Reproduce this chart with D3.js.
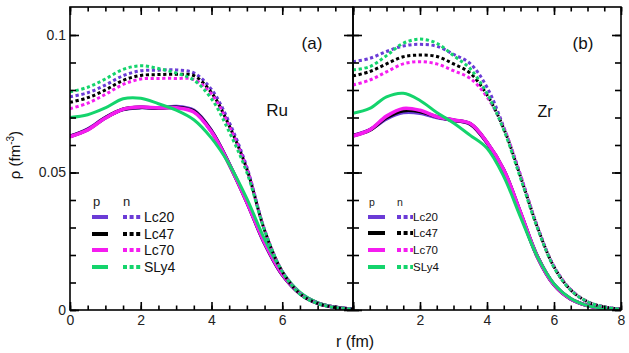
<!DOCTYPE html>
<html lang="en">
<head>
  <meta charset="UTF-8">
  <title>density profiles</title>
  <script src="https://cdn.jsdelivr.net/npm/d3@7"></script>
  <style>
    body { margin: 0; background: #fff; }
    text { font-family: 'Liberation Sans', Arial, sans-serif; }
  </style>
</head>
<body>
</body>
<script>
  // radius grid (fm)
  const rGrid = [0, 0.5, 1, 1.5, 2, 2.5, 3, 3.5, 4, 4.5, 5, 5.5, 6, 6.5, 7, 7.5, 8]
  const models = ['Lc20', 'Lc47', 'Lc70', 'SLy4']
  const xTicks = [0, 0.5, 1, 1.5, 2, 2.5, 3, 3.5, 4, 4.5, 5, 5.5, 6, 6.5, 7, 7.5, 8]
  const yTicks = [0, 0.01, 0.02, 0.03, 0.04, 0.05, 0.06, 0.07, 0.08, 0.09, 0.1]
  const yLabels = [0, 0.05, 0.1]

  // Ru, protons
  const ruPLc20 = [0.0632, 0.0658, 0.0700, 0.0729, 0.0736, 0.0734, 0.0740, 0.0726, 0.0652, 0.0532, 0.0392, 0.0242, 0.0128, 0.0060, 0.0025, 0.0010, 0.0003]
  const ruPLc47 = [0.0631, 0.0656, 0.0699, 0.0730, 0.0737, 0.0734, 0.0737, 0.0723, 0.0650, 0.0530, 0.0393, 0.0244, 0.0129, 0.0060, 0.0025, 0.0010, 0.0003]
  const ruPLc70 = [0.0630, 0.0655, 0.0698, 0.0730, 0.0738, 0.0735, 0.0735, 0.0720, 0.0648, 0.0530, 0.0392, 0.0245, 0.0130, 0.0060, 0.0025, 0.0010, 0.0003]
  const ruPSLy4 = [0.0700, 0.0710, 0.0735, 0.0768, 0.0770, 0.0750, 0.0727, 0.0692, 0.0625, 0.0530, 0.0405, 0.0258, 0.0140, 0.0065, 0.0027, 0.0010, 0.0003]
  // Ru, neutrons
  const ruNLc20 = [0.0775, 0.0790, 0.0818, 0.0852, 0.0870, 0.0872, 0.0873, 0.0862, 0.0802, 0.0683, 0.0520, 0.0292, 0.0140, 0.0060, 0.0024, 0.0009, 0.0003]
  const ruNLc47 = [0.0755, 0.0772, 0.0800, 0.0835, 0.0853, 0.0856, 0.0857, 0.0852, 0.0790, 0.0670, 0.0512, 0.0290, 0.0140, 0.0059, 0.0024, 0.0009, 0.0003]
  const ruNLc70 = [0.0732, 0.0752, 0.0784, 0.0820, 0.0840, 0.0842, 0.0842, 0.0838, 0.0785, 0.0668, 0.0512, 0.0292, 0.0141, 0.0060, 0.0024, 0.0009, 0.0003]
  const ruNSLy4 = [0.0793, 0.0810, 0.0840, 0.0875, 0.0888, 0.0878, 0.0862, 0.0836, 0.0768, 0.0648, 0.0500, 0.0290, 0.0140, 0.0058, 0.0023, 0.0009, 0.0003]

  // Zr, protons
  const zrPLc20 = [0.0635, 0.0655, 0.0695, 0.0718, 0.0716, 0.0700, 0.0690, 0.0676, 0.0608, 0.0508, 0.0352, 0.0195, 0.0092, 0.0040, 0.0016, 0.0006, 0.0002]
  const zrPLc47 = [0.0634, 0.0654, 0.0700, 0.0725, 0.0722, 0.0703, 0.0690, 0.0677, 0.0609, 0.0509, 0.0353, 0.0195, 0.0092, 0.0040, 0.0016, 0.0006, 0.0002]
  const zrPLc70 = [0.0633, 0.0655, 0.0705, 0.0733, 0.0726, 0.0703, 0.0691, 0.0678, 0.0610, 0.0510, 0.0355, 0.0195, 0.0092, 0.0040, 0.0016, 0.0006, 0.0002]
  const zrPSLy4 = [0.0715, 0.0733, 0.0775, 0.0788, 0.0762, 0.0718, 0.0680, 0.0635, 0.0588, 0.0485, 0.0338, 0.0195, 0.0095, 0.0042, 0.0016, 0.0006, 0.0002]
  // Zr, neutrons
  const zrNLc20 = [0.0903, 0.0915, 0.0940, 0.0960, 0.0966, 0.0959, 0.0930, 0.0896, 0.0810, 0.0665, 0.0490, 0.0305, 0.0158, 0.0074, 0.0030, 0.0011, 0.0003]
  const zrNLc47 = [0.0851, 0.0867, 0.0895, 0.0921, 0.0927, 0.0922, 0.0895, 0.0861, 0.0782, 0.0660, 0.0485, 0.0303, 0.0157, 0.0073, 0.0030, 0.0011, 0.0003]
  const zrNLc70 = [0.0818, 0.0836, 0.0866, 0.0895, 0.0903, 0.0895, 0.0870, 0.0842, 0.0775, 0.0662, 0.0490, 0.0305, 0.0158, 0.0074, 0.0030, 0.0011, 0.0003]
  const zrNSLy4 = [0.0873, 0.0885, 0.0925, 0.0970, 0.0985, 0.0970, 0.0925, 0.0877, 0.0787, 0.0655, 0.0480, 0.0300, 0.0155, 0.0072, 0.0030, 0.0011, 0.0003]

  const panels = [
    { key: 'a', nucleus: 'Ru', p: [ruPLc20, ruPLc47, ruPLc70, ruPSLy4], n: [ruNLc20, ruNLc47, ruNLc70, ruNSLy4] },
    { key: 'b', nucleus: 'Zr', p: [zrPLc20, zrPLc47, zrPLc70, zrPSLy4], n: [zrNLc20, zrNLc47, zrNLc70, zrNSLy4] }
  ]

  drawChart()

  function drawChart() {
    const width = 629
    const height = 353
    const top = 7
    const bottom = 310
    const colors = ['#6b3bd6', '#000000', '#f51cf0', '#14d46c']
    const dash = '3.2,2.6'
    const font = "'Liberation Sans', Arial, sans-serif"

    const svg = d3.select('body').append('svg').attr('width', width).attr('height', height)

    const y = d3.scaleLinear().domain([0, 0.11018]).range([bottom, top])

    // panel geometry
    const px = [[70, 353], [353, 621]]

    const line = (x) => d3.line()
      .x((d, i) => x(rGrid[i]))
      .y(d => y(d))
      .curve(d3.curveCatmullRom.alpha(0.5))

    panels.forEach((panel, pi) => {
      const [x0, x1] = px[pi]
      const x = d3.scaleLinear().domain([0, 8]).range([x0, x1])
      const g = svg.append('g')

      const clipId = 'clip-' + panel.key
      svg.append('clipPath').attr('id', clipId)
        .append('rect').attr('x', x0).attr('y', top).attr('width', x1 - x0).attr('height', bottom - top)

      // curves: protons solid, neutrons dotted
      const curves = g.append('g').attr('clip-path', `url(#${clipId})`).attr('fill', 'none')
      panel.p.forEach((vals, i) => {
        curves.append('path')
          .attr('d', line(x)(vals))
          .attr('stroke', colors[i])
          .attr('stroke-width', i === 3 ? 3 : 3.6)
      })
      panel.n.forEach((vals, i) => {
        curves.append('path')
          .attr('d', line(x)(vals))
          .attr('stroke', colors[i])
          .attr('stroke-width', 3)
          .attr('stroke-dasharray', dash)
      })

      // axes (ticks point inwards)
      const minorX = xTicks
      const majorX = xTicks.filter(d => d % 2 === 0)
      const xLabelOk = d => pi === 0 ? d < 8 : d > 0

      g.append('g').attr('transform', `translate(0,${bottom})`)
        .call(d3.axisBottom(x).tickValues(minorX).tickSize(-4.5).tickFormat(''))
      g.append('g').attr('transform', `translate(0,${bottom})`)
        .call(d3.axisBottom(x).tickValues(majorX).tickSize(-8).tickPadding(5)
          .tickFormat(d => xLabelOk(d) ? d : ''))
      g.append('g').attr('transform', `translate(0,${top})`)
        .call(d3.axisTop(x).tickValues(minorX).tickSize(-4.5).tickFormat(''))
      g.append('g').attr('transform', `translate(0,${top})`)
        .call(d3.axisTop(x).tickValues(majorX).tickSize(-8).tickFormat(''))

      const minorY = yTicks
      const majorY = yLabels
      g.append('g').attr('transform', `translate(${x0},0)`)
        .call(d3.axisLeft(y).tickValues(minorY).tickSize(-6).tickFormat(''))
      g.append('g').attr('transform', `translate(${x0},0)`)
        .call(d3.axisLeft(y).tickValues(majorY).tickSize(-9).tickPadding(pi === 0 ? 4 : 0)
          .tickFormat(d => pi === 0 ? (d === 0 ? '0' : String(d)) : ''))
      g.append('g').attr('transform', `translate(${x1},0)`)
        .call(d3.axisRight(y).tickValues(minorY).tickSize(-6).tickFormat(''))
      g.append('g').attr('transform', `translate(${x1},0)`)
        .call(d3.axisRight(y).tickValues(majorY).tickSize(-9).tickFormat(''))

      g.selectAll('.domain').remove()
      g.selectAll('.tick line').attr('stroke', '#000').attr('stroke-width', 1.6)
      g.selectAll('.tick text')
        .style('font-family', font).style('font-size', '14px').attr('fill', '#222')

      // frame
      g.append('rect')
        .attr('x', x0).attr('y', top)
        .attr('width', x1 - x0).attr('height', bottom - top)
        .attr('fill', 'none').attr('stroke', '#000').attr('stroke-width', 1.6)

      // panel tag and nucleus name
      g.append('text')
        .attr('x', pi === 0 ? 312 : 583).attr('y', 49)
        .attr('text-anchor', 'middle')
        .style('font-size', '17px').attr('fill', '#111')
        .text(`(${panel.key})`)
      g.append('text')
        .attr('x', pi === 0 ? 277 : 545).attr('y', pi === 0 ? 116 : 117)
        .attr('text-anchor', 'middle')
        .style('font-size', pi === 0 ? '17px' : '16px').attr('fill', '#111')
        .text(panel.nucleus)

      // legend
      const lg = pi === 0
        ? { px: 92, nx: 123, len: [16, 19], tx: 144, fs: 14, rows: [217, 234, 250, 267] }
        : { px: 368, nx: 397, len: [17, 16], tx: 413, fs: 11.5, rows: [217, 233, 250, 267] }
      const legend = g.append('g')
      legend.append('text').attr('x', lg.px + 1).attr('y', 206)
        .style('font-size', (lg.fs - 1) + 'px').attr('fill', '#222').text('p')
      legend.append('text').attr('x', lg.nx).attr('y', 206)
        .style('font-size', (lg.fs - 1) + 'px').attr('fill', '#222').text('n')
      models.forEach((m, i) => {
        const ry = lg.rows[i]
        legend.append('line')
          .attr('x1', lg.px).attr('x2', lg.px + lg.len[0])
          .attr('y1', ry).attr('y2', ry)
          .attr('stroke', colors[i]).attr('stroke-width', 4)
        legend.append('line')
          .attr('x1', lg.nx).attr('x2', lg.nx + lg.len[1])
          .attr('y1', ry).attr('y2', ry)
          .attr('stroke', colors[i]).attr('stroke-width', 4)
          .attr('stroke-dasharray', '4,2.6')
        legend.append('text')
          .attr('x', lg.tx).attr('y', ry + lg.fs * 0.36)
          .style('font-size', lg.fs + 'px').attr('fill', '#111')
          .text(m)
      })
    })

    // axis titles
    const yTitle = svg.append('text')
      .attr('transform', 'translate(20,155) rotate(-90)')
      .attr('text-anchor', 'middle')
      .style('font-size', '15px').attr('fill', '#111')
    yTitle.append('tspan').text('ρ (fm')
    yTitle.append('tspan').text('-3').attr('dy', -6).style('font-size', '10px')
    yTitle.append('tspan').text(')').attr('dy', 6)

    svg.append('text')
      .attr('x', 355).attr('y', 347)
      .attr('text-anchor', 'middle')
      .style('font-size', '16px').attr('fill', '#111')
      .text('r (fm)')
  }
</script>
</html>
